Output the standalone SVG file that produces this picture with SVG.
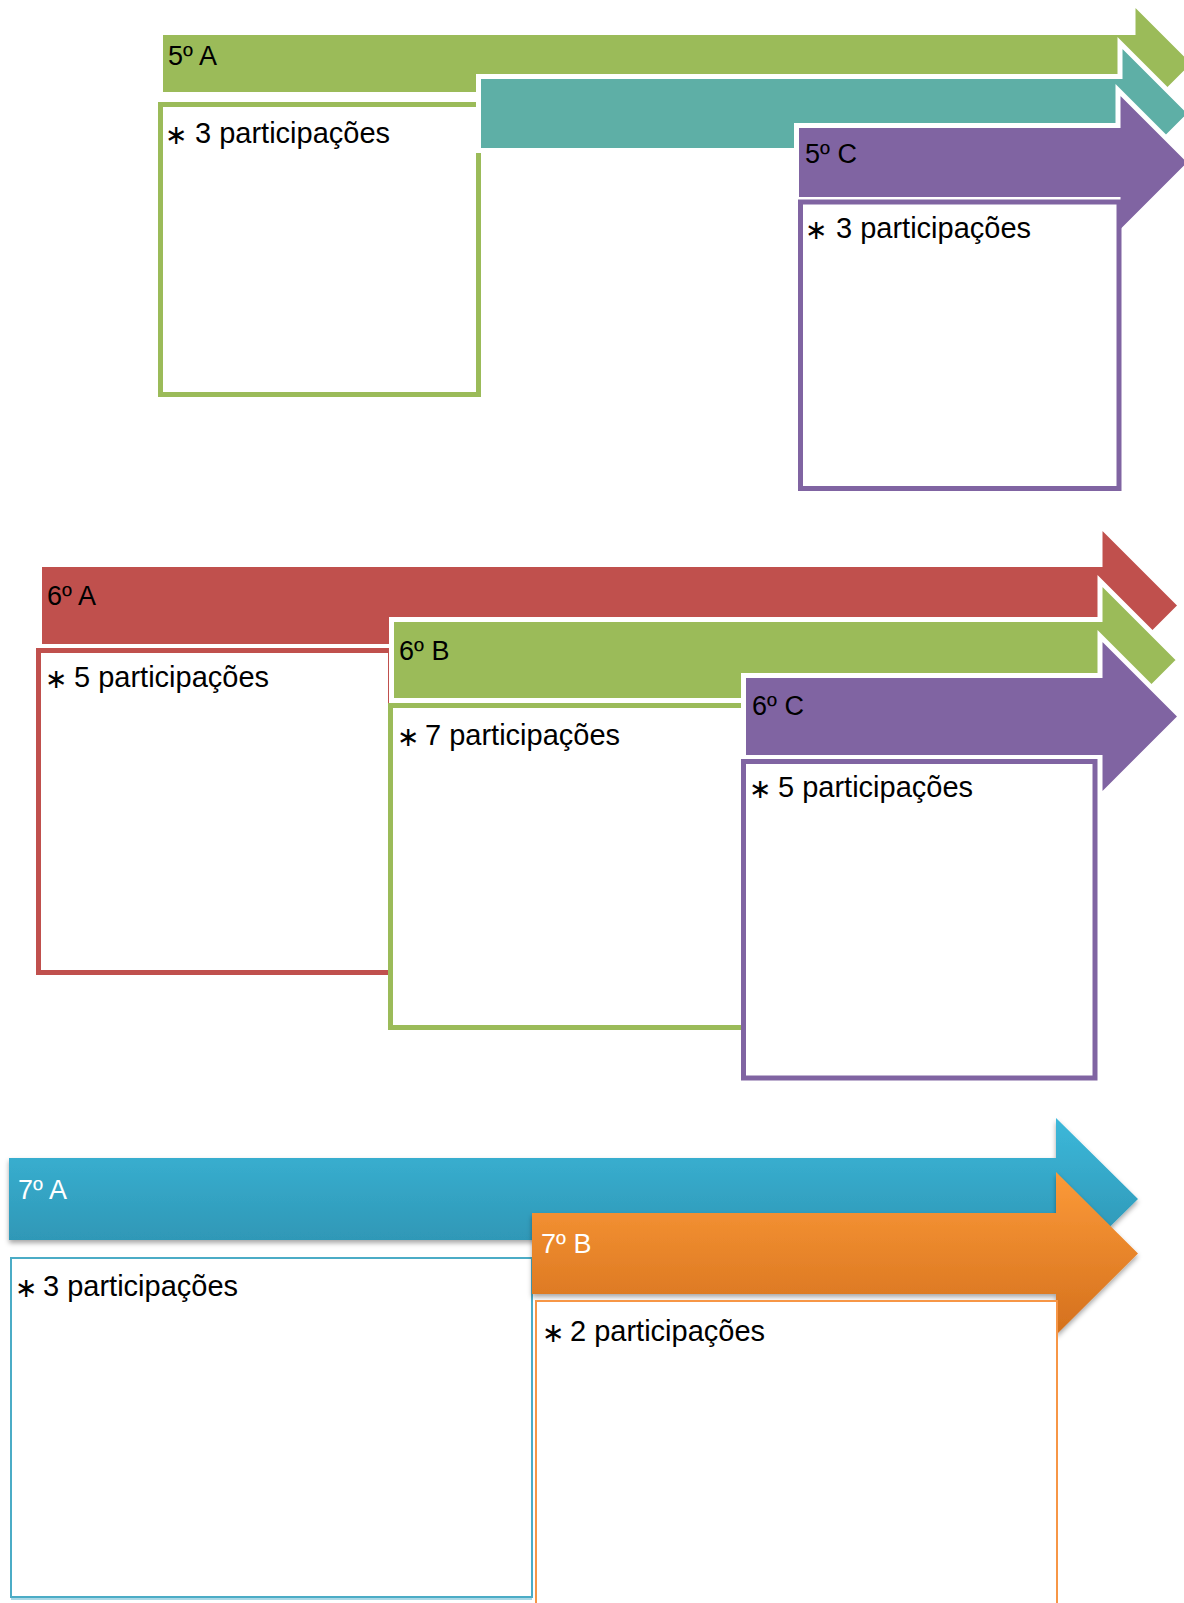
<svg xmlns="http://www.w3.org/2000/svg" width="1184" height="1603" viewBox="0 0 1184 1603">
<style>
.arw{stroke:#fff;stroke-width:5;stroke-linejoin:miter}
.box{fill:#fff;stroke-width:5}
.hd{font-family:"Liberation Sans",Arial,sans-serif;font-size:27px;fill:#000}
.hdw{font-family:"Liberation Sans",Arial,sans-serif;font-size:27px;fill:#fff}
.bd{font-family:"Liberation Sans",Arial,sans-serif;font-size:29px;fill:#000}
.bl{font-family:"DejaVu Sans",sans-serif;font-size:27px}
.green{fill:#9bbb59}.teal{fill:#5eafa6}.purple{fill:#8064a2}.red{fill:#c0504d}
</style>
<defs>
<linearGradient id="gBlue" x1="0" y1="0" x2="0" y2="1">
<stop offset="0" stop-color="#3cb8da"/><stop offset="1" stop-color="#2b8dab"/>
</linearGradient>
<linearGradient id="gOrange" x1="0" y1="0" x2="0" y2="1">
<stop offset="0" stop-color="#fc9a38"/><stop offset="1" stop-color="#d4701d"/>
</linearGradient>
<filter id="sh" x="-5%" y="-10%" width="110%" height="130%">
<feDropShadow dx="0" dy="3" stdDeviation="2.5" flood-color="#000" flood-opacity="0.35"/>
</filter>
</defs>
<g id="connectors"/>

<g id="node-5A">
<polygon class="arw green" points="160.5,32.5 1133,32.5 1133,2 1194.5,63.5 1133,125 1133,94.5 160.5,94.5"/>
<text class="hd" x="168" y="65">5º A</text>
<rect class="box" x="160.5" y="104.5" width="318" height="290" stroke="#9bbb59"/>
<text class="bd" x="165" y="143"><tspan class="bl" dy="1">∗</tspan><tspan x="195" dy="-1">3 participações</tspan></text>
</g>

<g id="node-5B">
<polygon class="arw teal" points="478.5,76.5 1120,76.5 1120,43 1190.5,113.5 1120,184 1120,150.5 478.5,150.5"/>
</g>

<g id="node-5C">
<polygon class="arw purple" points="796.5,125.5 1118,125.5 1118,90 1190.5,162.5 1118,235 1118,199.5 796.5,199.5"/>
<text class="hd" x="805" y="163">5º C</text>
<rect class="box" x="800.5" y="202" width="318.5" height="286.5" stroke="#8064a2"/>
<text class="bd" x="805" y="238"><tspan class="bl" dy="1">∗</tspan><tspan x="836" dy="-1">3 participações</tspan></text>
</g>

<g id="node-6A">
<polygon class="arw red" points="39.5,564.5 1100,564.5 1100,525 1180.5,605.5 1100,686 1100,646.5 39.5,646.5"/>
<text class="hd" x="47" y="605">6º A</text>
<rect class="box" x="38.5" y="650.5" width="352" height="322" stroke="#c0504d"/>
<text class="bd" x="45" y="687"><tspan class="bl" dy="1">∗</tspan><tspan x="74" dy="-1">5 participações</tspan></text>
</g>

<g id="node-6B">
<polygon class="arw green" points="391.5,619.5 1100,619.5 1100,581 1179,660 1100,739 1100,700.5 391.5,700.5"/>
<text class="hd" x="399" y="660">6º B</text>
<rect class="box" x="390.5" y="705.5" width="353" height="322" stroke="#9bbb59"/>
<text class="bd" x="397" y="745"><tspan class="bl" dy="1">∗</tspan><tspan x="425" dy="-1">7 participações</tspan></text>
</g>

<g id="node-6C">
<polygon class="arw purple" points="743.5,675.5 1100,675.5 1100,636 1180.5,716.5 1100,797 1100,757.5 743.5,757.5"/>
<text class="hd" x="752" y="715">6º C</text>
<rect class="box" x="743.5" y="761.5" width="351.5" height="316.5" stroke="#8064a2"/>
<text class="bd" x="749" y="797"><tspan class="bl" dy="1">∗</tspan><tspan x="778" dy="-1">5 participações</tspan></text>
</g>

<g id="node-7A">
<polygon fill="url(#gBlue)" filter="url(#sh)" points="9,1158 1056,1158 1056,1118 1138,1199 1056,1280 1056,1240 9,1240"/>
<text class="hdw" x="18" y="1199">7º A</text>
<line x1="11" y1="1599" x2="532" y2="1599" stroke="#a9d8e6" stroke-width="2"/>
<rect x="11" y="1258" width="521" height="339" fill="#fff" stroke="#4bacc6" stroke-width="2"/>
<text class="bd" x="15" y="1296"><tspan class="bl" dy="1">∗</tspan><tspan x="43" dy="-1">3 participações</tspan></text>
</g>

<g id="node-7B">
<polygon fill="url(#gOrange)" filter="url(#sh)" points="532,1213 1056,1213 1056,1172 1138,1253.5 1056,1335 1056,1294 532,1294"/>
<text class="hdw" x="541" y="1253">7º B</text>
<rect x="536" y="1301" width="521" height="400" fill="#fff" stroke="#f79646" stroke-width="2"/>
<text class="bd" x="542" y="1341"><tspan class="bl" dy="1">∗</tspan><tspan x="570" dy="-1">2 participações</tspan></text>
</g>
</svg>
